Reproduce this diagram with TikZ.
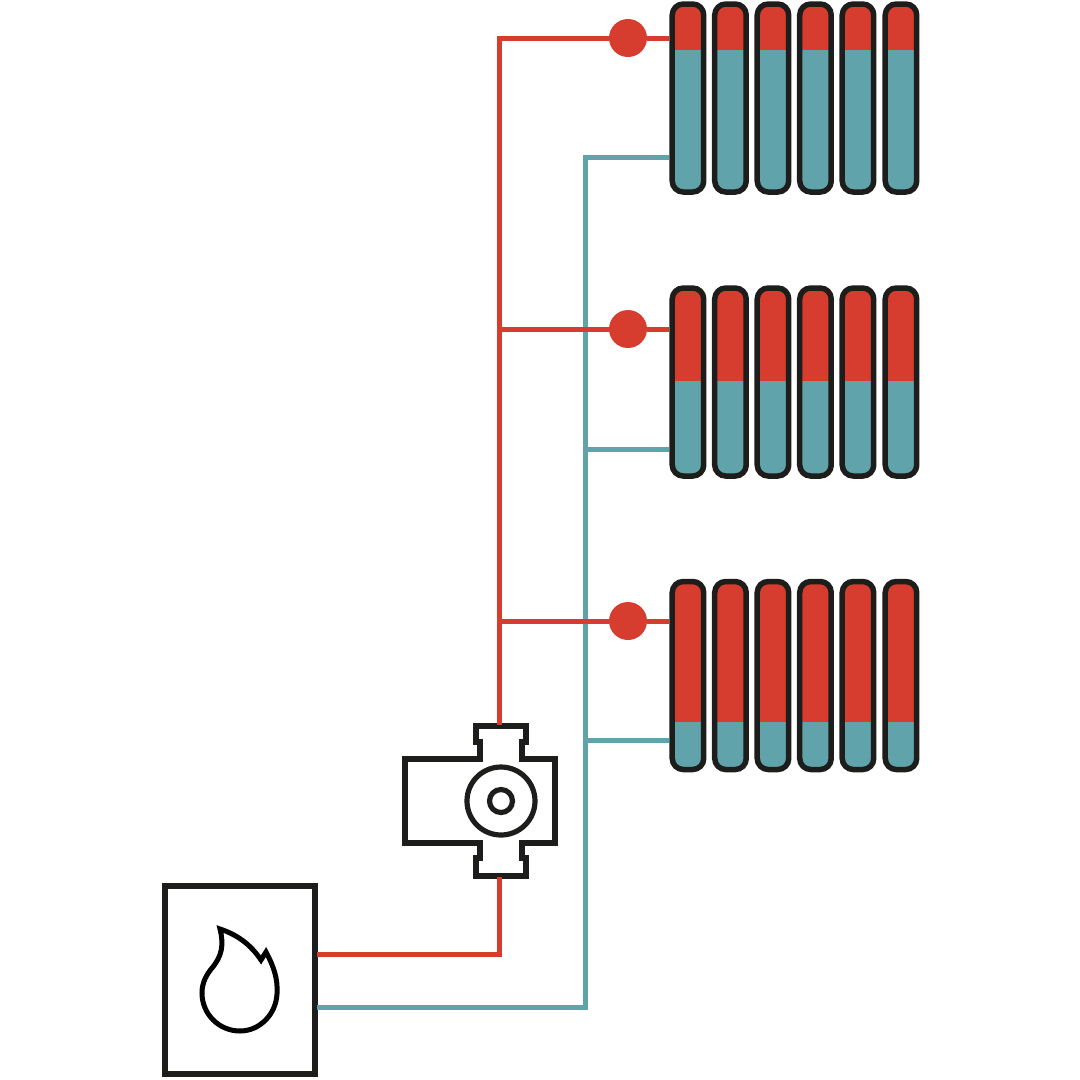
\documentclass[tikz,border=0pt]{standalone}
\usepackage{xcolor}
\usetikzlibrary{positioning}
\definecolor{hot}{HTML}{D73D2E}
\definecolor{cold}{HTML}{61A3AA}
\definecolor{ink}{HTML}{1D1D1B}

\begin{document}
\begin{tikzpicture}[
   x=0.1mm,y=-0.1mm,
   hotpipe/.style={draw=hot,line width=0.5mm},
   coldpipe/.style={draw=cold,line width=0.5mm},
   rad/.style={draw=ink,line width=0.55mm,fill=cold,rounded corners=1.1mm,inner sep=0pt,
     minimum width=3.15mm,minimum height=18.5mm+0.3mm,
     path picture={\fill[hot,sharp corners] (path picture bounding box.north west) rectangle
       ([yshift=-#1 mm]path picture bounding box.north east);}},
   valve/.style={circle,fill=hot,inner sep=0pt,outer sep=0pt,minimum size=3.8mm},
   outline/.style={draw=ink,line width=0.52mm,fill=white}]
 \useasboundingbox (0,0) rectangle (1080,1080);

 % radiators: bank / top-to-split height
 \foreach \bank/\ypos/\split in {a/98/4.6,b/382/9.3,c/675.5/14.05}{
   \foreach \xpos [count=\i] in {688,730.5,773,815.5,858,901}
     \node[rad=\split] (rad\bank\i) at (\xpos,\ypos) {};
 }
 \node[valve] (va) at (628,38) {};
 \node[valve] (vb) at (628,329) {};
 \node[valve] (vc) at (628,621) {};

 % boiler and pump
 \node[outline,minimum width=15mm,minimum height=18.8mm,inner sep=0pt] (boiler) at (240,980) {};
 \draw[draw=black,line width=0.5mm,line join=miter] (220,929) .. controls (238,935) and (251,945) .. (261,960)
   -- (266,952) .. controls (274,967) and (278,979) .. (277,994)
   .. controls (276,1014) and (260,1031) .. (240,1031)
   .. controls (219,1031) and (202,1014) .. (202,993)
   .. controls (202,982) and (207,974) .. (212,968)
   .. controls (222,956) and (224,945) .. (220,929) -- cycle;
 \draw[outline] (405,759) -- (480,759) -- (480,742) -- (476,742) -- (476,726) -- (526,726) -- (526,742)
   -- (522,742) -- (522,759) -- (555,759) -- (555,843) -- (522,843) -- (522,858) -- (526,858) -- (526,876)
   -- (476,876) -- (476,858) -- (480,858) -- (480,843) -- (405,843) -- cycle;
 \node[circle,draw=ink,line width=0.52mm,minimum size=6.8mm,inner sep=0pt] (rotor) at (501,801) {};
 \node[circle,draw=ink,line width=0.52mm,minimum size=2.3mm,inner sep=0pt] (hub) at (501,801) {};

 % pipe ends
 \coordinate (hotout) at (317,954);
 \coordinate (coldout) at (317,1007);
 \coordinate (pumpin) at (500,877);
 \coordinate (pumpout) at (500,725);
 \coordinate (hotb) at (500,329);
 \coordinate (hotc) at (500,621);
 \coordinate (coldriser) at (586,157);

 \draw[coldpipe] (coldout) -| (coldriser) -- (coldriser -| rada1.west);
 \draw[coldpipe] (coldriser |- 0,449) -- (586,449 -| radb1.west);
 \draw[coldpipe] (coldriser |- 0,740) -- (586,740 -| radc1.west);
 \draw[hotpipe] (hotout) -| (pumpin);
 \draw[hotpipe] (pumpout) |- (va);
 \draw[hotpipe] (va) -- (va -| rada1.west);
 \draw[hotpipe] (hotb) -- (vb);
 \draw[hotpipe] (vb) -- (vb -| radb1.west);
 \draw[hotpipe] (hotc) -- (vc);
 \draw[hotpipe] (vc) -- (vc -| radc1.west);
\end{tikzpicture}
\end{document}
